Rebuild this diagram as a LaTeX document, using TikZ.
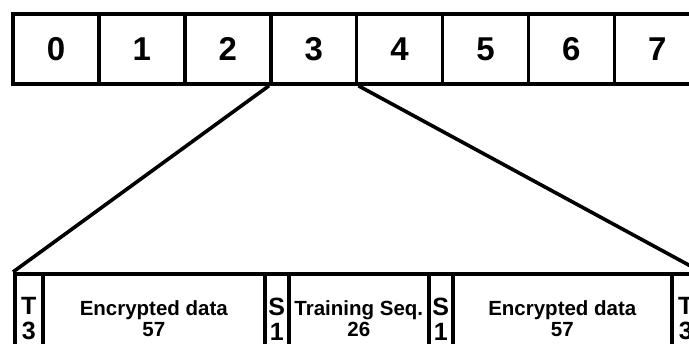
\documentclass[tikz,border=0pt]{standalone}
\usepackage{fontspec}
\setmainfont{Liberation Sans}

\begin{document}
\begin{tikzpicture}[
  slot/.style={rectangle,draw,line width=3.6pt,minimum width=85.9pt,minimum height=70pt,
    inner sep=0pt,font=\fontsize{33}{33}\selectfont\bfseries},
  field/.style={rectangle,draw,line width=3.6pt,minimum height=90pt,inner sep=0pt,
    anchor=north west,align=center,font=\fontsize{20.5}{21}\selectfont\bfseries},
  tag/.style={field,font=\fontsize{25}{25}\selectfont\bfseries},
  link/.style={line width=3.6pt},
  x=1pt,y=-1pt
]
  \clip (0,0) rectangle (689,344);
  \foreach \i in {0,...,7}
    \node[slot] (b\i) at ({56+85.9*\i},49) {\i};
  \foreach \n/\l/\w/\t in {t1/13/28/3,s1/263/24/1,s2/427/24/1,t2/670/28/3}
    \node[tag,minimum width=\w pt] (\n) at (\l,272) {\ifnum\w=28 T\else S\fi\\\t};
  \foreach \n/\l/\w/\t in {e1/41/222/{Encrypted data\\57},tr/287/140/{Training Seq.\\26},e2/451/219/{Encrypted data\\57}}
    \node[field,minimum width=\w pt] (\n) at (\l,272) {\t};
  \draw[link] (b3.south west) -- (t1.north west);
  \draw[link] (b3.south east) -- (t2.north east);
\end{tikzpicture}
\end{document}
